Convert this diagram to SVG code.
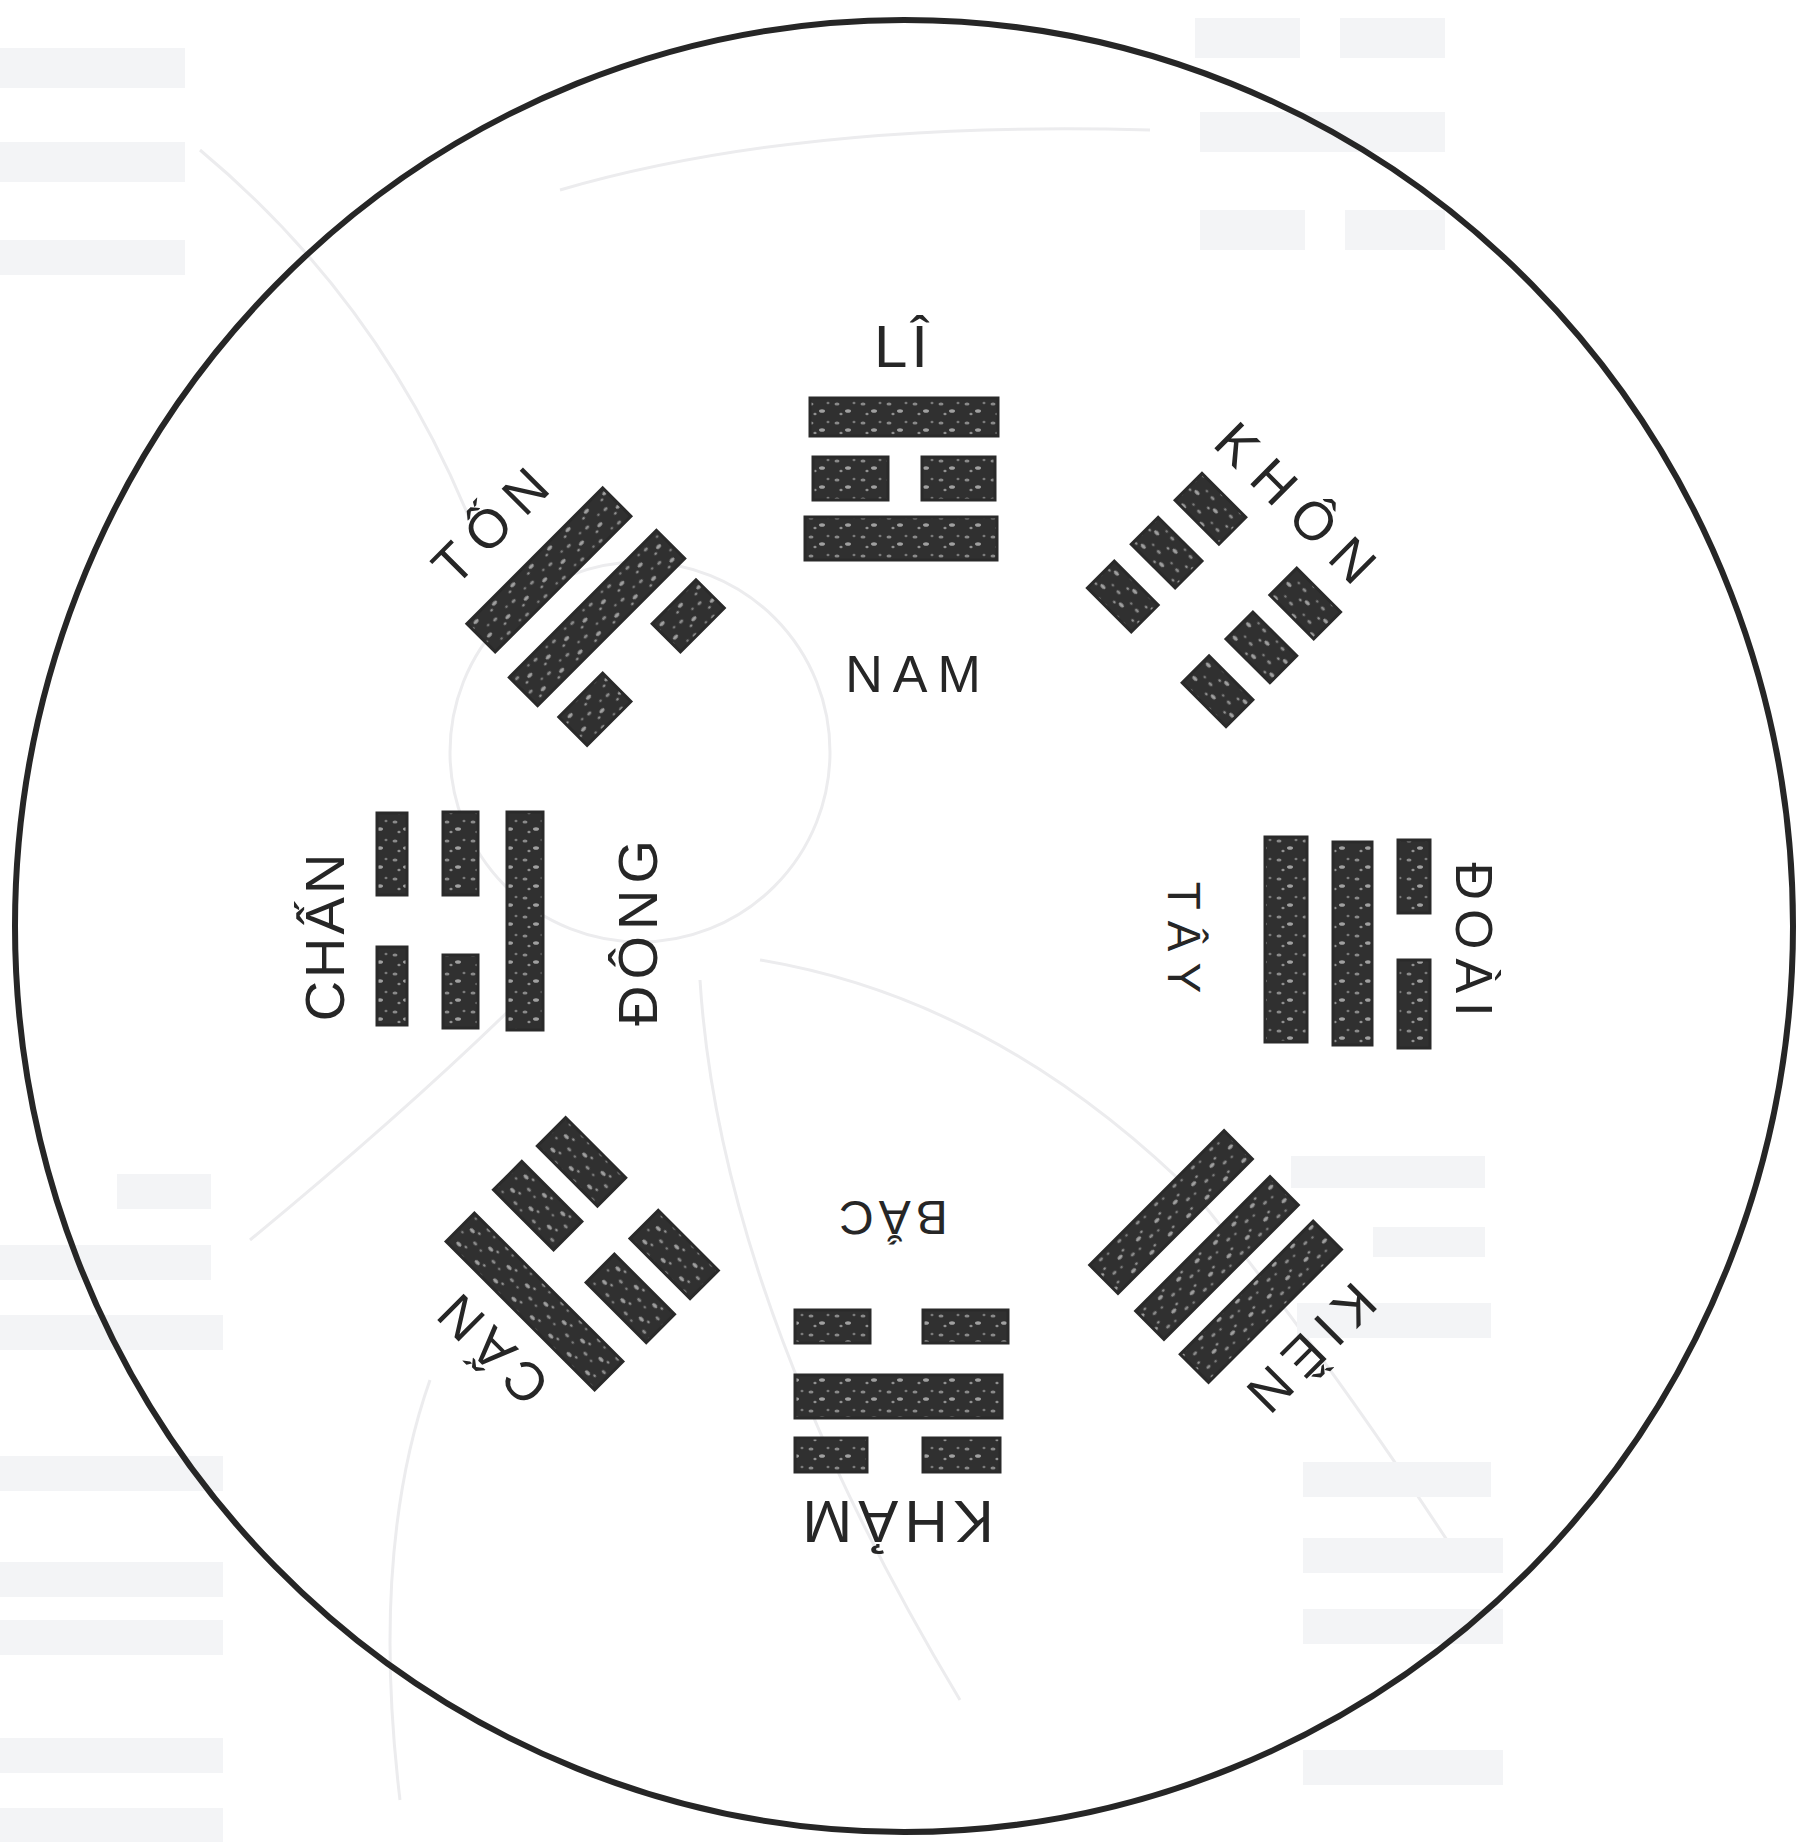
<svg xmlns="http://www.w3.org/2000/svg" width="1818" height="1842" viewBox="0 0 1818 1842">
<defs>
<pattern id="grain" width="26" height="19" patternUnits="userSpaceOnUse">
<rect width="26" height="19" fill="#303030"/>
<ellipse cx="5" cy="5" rx="2.5" ry="1.6" fill="#8a8a8a"/>
<ellipse cx="16" cy="12" rx="3" ry="1.8" fill="#a0a0a0"/>
<ellipse cx="22" cy="4" rx="1.5" ry="1.2" fill="#7a7a7a"/>
<ellipse cx="9" cy="15" rx="1.6" ry="1.2" fill="#909090"/>
</pattern>
<style>
.bar{fill:url(#grain);stroke:#2a2a2a;stroke-width:3}
.lbl{font-family:"Liberation Sans","DejaVu Sans",Arial,sans-serif;fill:#262626;text-anchor:middle;font-weight:normal}
.faint{fill:none;stroke:#ececee;stroke-width:3}
.ghost{fill:#f3f4f6}
</style>
</defs>
<rect width="1818" height="1842" fill="#ffffff"/>

<g id="background-ghosts">
<circle class="faint" cx="640" cy="752" r="190"/>
<path class="faint" d="M200 150 Q380 300 470 520"/>
<path class="faint" d="M560 190 Q800 120 1150 130"/>
<path class="faint" d="M760 960 Q1000 1000 1200 1200 Q1330 1360 1460 1560"/>
<path class="faint" d="M700 980 Q720 1300 960 1700"/>
<path class="faint" d="M540 980 Q420 1100 250 1240"/>
<path class="faint" d="M430 1380 Q370 1550 400 1800"/>
<rect class="ghost" x="0" y="48" width="185" height="40"/>
<rect class="ghost" x="0" y="142" width="185" height="40"/>
<rect class="ghost" x="0" y="240" width="185" height="35"/>
<rect class="ghost" x="1195" y="18" width="105" height="40"/>
<rect class="ghost" x="1340" y="18" width="105" height="40"/>
<rect class="ghost" x="1200" y="112" width="245" height="40"/>
<rect class="ghost" x="1200" y="210" width="105" height="40"/>
<rect class="ghost" x="1345" y="210" width="100" height="40"/>
<rect class="ghost" x="117" y="1174" width="94" height="35"/>
<rect class="ghost" x="0" y="1245" width="211" height="35"/>
<rect class="ghost" x="0" y="1315" width="223" height="35"/>
<rect class="ghost" x="0" y="1456" width="223" height="35"/>
<rect class="ghost" x="0" y="1562" width="223" height="35"/>
<rect class="ghost" x="0" y="1620" width="223" height="35"/>
<rect class="ghost" x="0" y="1738" width="223" height="35"/>
<rect class="ghost" x="0" y="1808" width="223" height="34"/>
<rect class="ghost" x="1291" y="1156" width="194" height="32"/>
<rect class="ghost" x="1373" y="1227" width="112" height="30"/>
<rect class="ghost" x="1297" y="1303" width="194" height="35"/>
<rect class="ghost" x="1303" y="1462" width="188" height="35"/>
<rect class="ghost" x="1303" y="1538" width="200" height="35"/>
<rect class="ghost" x="1303" y="1609" width="200" height="35"/>
<rect class="ghost" x="1303" y="1750" width="200" height="35"/>
</g>

<ellipse id="outer-circle" cx="904" cy="926" rx="889" ry="906" fill="none" stroke="#262626" stroke-width="6"/>

<g id="connectors"></g>

<g id="li">
<rect class="bar" x="810" y="398" width="188" height="38"/>
<rect class="bar" x="813" y="457" width="75" height="43"/>
<rect class="bar" x="922" y="457" width="73" height="43"/>
<rect class="bar" x="805" y="517" width="192" height="43"/>
<text class="lbl" font-size="60" letter-spacing="4" x="903" y="367">LÎ</text>
<text class="lbl" font-size="52" letter-spacing="10" x="918" y="692">NAM</text>
</g>

<g id="kham">
<rect class="bar" x="795" y="1310" width="75" height="33"/>
<rect class="bar" x="923" y="1310" width="85" height="33"/>
<rect class="bar" x="795" y="1375" width="207" height="43"/>
<rect class="bar" x="795" y="1438" width="72" height="34"/>
<rect class="bar" x="923" y="1438" width="77" height="34"/>
<text class="lbl" font-size="60" letter-spacing="6" transform="translate(898,1523) rotate(180)" x="3" y="22">KHẢM</text>
<text class="lbl" font-size="48" letter-spacing="5" transform="translate(893,1218) rotate(180)" x="2" y="17">BẮC</text>
</g>

<g id="chan">
<rect class="bar" x="377" y="813" width="30" height="82"/>
<rect class="bar" x="377" y="947" width="30" height="78"/>
<rect class="bar" x="443" y="812" width="35" height="83"/>
<rect class="bar" x="443" y="955" width="35" height="73"/>
<rect class="bar" x="507" y="812" width="36" height="218"/>
<text class="lbl" font-size="56" letter-spacing="3" transform="translate(324,937) rotate(-90)" x="1" y="20">CHẤN</text>
<text class="lbl" font-size="56" letter-spacing="6" transform="translate(637,933) rotate(-90)" x="3" y="20">ĐÔNG</text>
</g>

<g id="doai">
<rect class="bar" x="1265" y="837" width="42" height="205"/>
<rect class="bar" x="1333" y="842" width="39" height="203"/>
<rect class="bar" x="1398" y="840" width="32" height="73"/>
<rect class="bar" x="1398" y="960" width="32" height="88"/>
<text class="lbl" font-size="46" letter-spacing="11" transform="translate(1184,938) rotate(90)" x="5" y="16">TÂY</text>
<text class="lbl" font-size="52" letter-spacing="9" transform="translate(1474,940) rotate(90)" x="4" y="18">ĐOÀI</text>
</g>

<g id="khon" transform="translate(1214,600) rotate(45)">
<rect class="bar" x="-98" y="-81" width="62" height="38"/>
<rect class="bar" x="36" y="-81" width="62" height="38"/>
<rect class="bar" x="-98" y="-19" width="62" height="38"/>
<rect class="bar" x="36" y="-19" width="62" height="38"/>
<rect class="bar" x="-98" y="43" width="62" height="38"/>
<rect class="bar" x="36" y="43" width="62" height="38"/>
</g>
<text id="khon-label" class="lbl" font-size="54" letter-spacing="15" transform="translate(1296,503) rotate(45)" x="7" y="19">KHÔN</text>

<g id="ton" transform="translate(597,618) rotate(-45)">
<rect class="bar" x="-96" y="-88" width="192" height="40"/>
<rect class="bar" x="-104" y="-20" width="208" height="40"/>
<rect class="bar" x="-97" y="43" width="62" height="40"/>
<rect class="bar" x="35" y="43" width="62" height="40"/>
</g>
<text id="ton-label" class="lbl" font-size="54" letter-spacing="12" transform="translate(490,526) rotate(-45)" x="6" y="19">TỐN</text>

<g id="can" transform="translate(584,1252) rotate(225)">
<rect class="bar" x="-105" y="-90" width="210" height="40"/>
<rect class="bar" x="-108" y="-20" width="85" height="40"/>
<rect class="bar" x="23" y="-20" width="85" height="40"/>
<rect class="bar" x="-108" y="42" width="85" height="40"/>
<rect class="bar" x="23" y="42" width="85" height="40"/>
</g>
<text id="can-label" class="lbl" font-size="54" letter-spacing="8" transform="translate(493,1350) rotate(225)" x="4" y="19">CẤN</text>

<g id="kien" transform="translate(1217,1258) rotate(135)">
<rect class="bar" x="-94" y="-82" width="188" height="40"/>
<rect class="bar" x="-95" y="-20" width="190" height="40"/>
<rect class="bar" x="-95" y="45" width="190" height="40"/>
</g>
<text id="kien-label" class="lbl" font-size="54" letter-spacing="10" transform="translate(1312,1348) rotate(135)" x="5" y="19">KIỀN</text>
</svg>
